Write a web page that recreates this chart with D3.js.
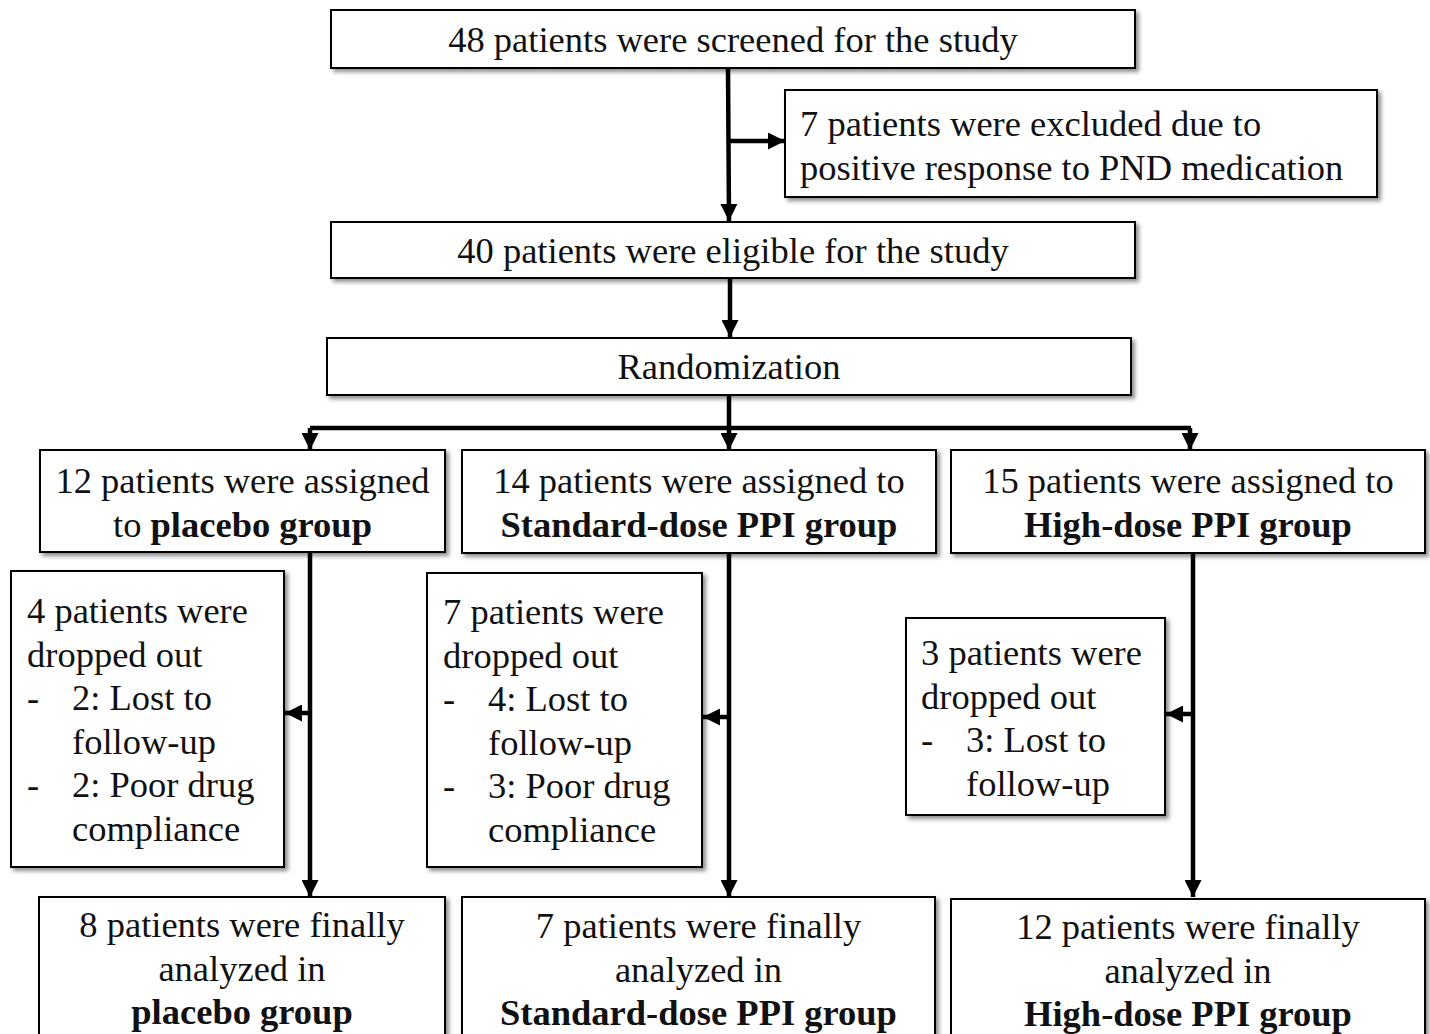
<!DOCTYPE html>
<html><head><meta charset="utf-8">
<script src="https://cdn.jsdelivr.net/npm/d3@7"></script>
<style>html,body{margin:0;padding:0;background:#fff;}svg{display:block;}</style>
</head><body>
<svg id="c" width="1430" height="1034"></svg>
<script>
// ---- data ----
const screened = 48, excluded = 7, eligible = 40;
const groupNames = ["placebo group", "Standard-dose PPI group", "High-dose PPI group"];
const assigned = [12, 14, 15];
const droppedOut = [4, 7, 3];
const lostFollowUp = [2, 4, 3];
const poorCompliance = [2, 3, 0];
const analyzed = [8, 7, 12];

// ---- layout ----
const FS = 36.5, LH = 43.6, FONT = "'Liberation Serif','Times New Roman',serif";
const svg = d3.select("#c");
const defs = svg.append("defs");
const f = defs.append("filter").attr("id","sh").attr("x","-10%").attr("y","-10%").attr("width","130%").attr("height","140%");
f.append("feDropShadow").attr("dx",3).attr("dy",3).attr("stdDeviation",2).attr("flood-color","#000").attr("flood-opacity",0.45);
defs.append("marker").attr("id","ah").attr("viewBox","0 0 10 10").attr("refX",10).attr("refY",5)
  .attr("markerWidth",17).attr("markerHeight",17).attr("markerUnits","userSpaceOnUse").attr("orient","auto")
  .append("path").attr("d","M0,0L10,5L0,10Z").attr("fill","#000");

function box(x0, y0, x1, y1) {
  svg.append("rect").attr("x",x0).attr("y",y0).attr("width",x1-x0).attr("height",y1-y0)
    .attr("fill","#fff").attr("stroke","#000").attr("stroke-width",2).attr("filter","url(#sh)");
}
function text(lines, x, yc0, anchor, indent) {
  lines.forEach((segs, i) => {
    const t = svg.append("text").attr("x", x + (segs.indent ? indent : 0)).attr("y", yc0 + i*LH + FS*0.3)
      .attr("text-anchor", anchor).attr("font-family", FONT).attr("font-size", FS).attr("fill","#111");
    segs.s.forEach(([str, b]) => t.append("tspan").attr("font-weight", b ? "bold" : "normal").text(str));
  });
}
function dash(x, yc) {
  svg.append("text").attr("x", x).attr("y", yc + FS*0.3).attr("font-family", FONT).attr("font-size", FS).attr("fill","#111").text("-");
}
function line(x0,y0,x1,y1,arrow) {
  const l = svg.append("line").attr("x1",x0).attr("y1",y0).attr("x2",x1).attr("y2",y1)
    .attr("stroke","#000").attr("stroke-width",4.5);
  if (arrow) l.attr("marker-end","url(#ah)");
}
const L = (s, indent) => ({s: Array.isArray(s) ? s : [[s,false]], indent: !!indent});

// connectors
line(728, 68, 729, 221, true);
line(728, 141, 785, 141, true);
line(730, 278, 730, 337, true);
line(729, 395, 729, 430, false);
line(310, 428, 1191, 428, false);
[310, 729, 1190].forEach(x => line(x, 428, x, 450, true));
const colX = [310, 729, 1193];
const arrowY = [713, 717, 714];
const dropRight = [285, 703, 1166];
colX.forEach((x,i) => {
  line(x, 553, x, 897, true);
  line(x, arrowY[i], dropRight[i], arrowY[i], true);
});

// top
box(331, 10, 1135, 68);
text([L(`${screened} patients were screened for the study`)], 733, 41, "middle");
box(785, 90, 1377, 197);
text([L(`${excluded} patients were excluded due to`), L("positive response to PND medication")], 800, 125, "start");
box(331, 222, 1135, 278);
text([L(`${eligible} patients were eligible for the study`)], 733, 252, "middle");
box(327, 338, 1131, 395);
text([L("Randomization")], 729, 368, "middle");

// groups
const gBox = [[40,450,445,552],[462,450,936,553],[951,450,1425,553]];
gBox.forEach((b,i) => {
  box(...b);
  const cx = (b[0]+b[2])/2;
  if (i === 0) {
    text([L(`${assigned[i]} patients were assigned`), L([["to ",false],[groupNames[i],true]])], cx, 482, "middle");
  } else {
    text([L(`${assigned[i]} patients were assigned to`), L([[groupNames[i],true]])], cx, 482, "middle");
  }
});

// dropouts
const dBox = [[11,571,284,867],[427,573,702,867],[906,618,1165,815]];
const dTx = [27, 443, 921];
const dY0 = [612, 613, 654];
dBox.forEach((b,i) => {
  box(...b);
  const lines = [L(`${droppedOut[i]} patients were`), L("dropped out"),
    L(`${lostFollowUp[i]}: Lost to`, true), L("follow-up", true)];
  if (poorCompliance[i] > 0) lines.push(L(`${poorCompliance[i]}: Poor drug`, true), L("compliance", true));
  text(lines, dTx[i], dY0[i], "start", 45);
  dash(dTx[i], dY0[i] + 2*LH);
  if (poorCompliance[i] > 0) dash(dTx[i], dY0[i] + 4*LH);
});

// final
const fBox = [[39,897,445,1050],[462,897,935,1050],[951,899,1425,1050]];
const fY0 = [926, 927, 928];
fBox.forEach((b,i) => {
  box(...b);
  const cx = (b[0]+b[2])/2;
  text([L(`${analyzed[i]} patients were finally`), L("analyzed in"), L([[groupNames[i],true]])], cx, fY0[i], "middle");
});
</script>
</body></html>
